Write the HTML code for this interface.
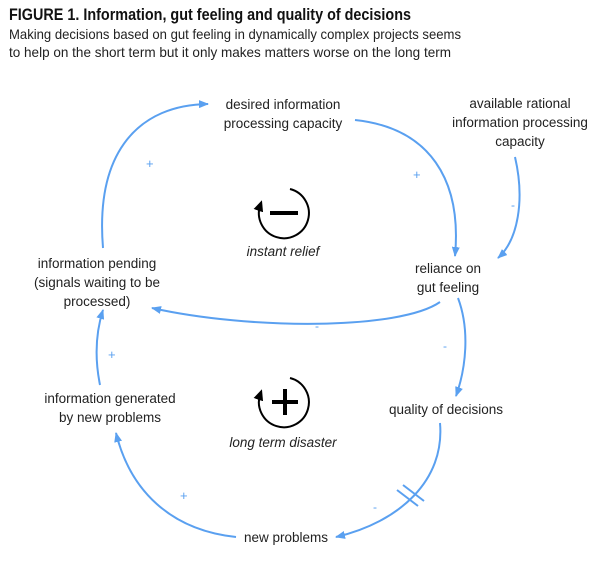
<!DOCTYPE html>
<html><head><style>
body{margin:0;width:600px;height:560px;background:#fff;overflow:hidden;font-family:"Liberation Sans",sans-serif}
svg text{font-family:"Liberation Sans",sans-serif;font-size:13.5px;fill:#222}
</style></head><body>
<svg width="600" height="560" viewBox="0 0 600 560">
<defs><marker id="a" markerWidth="10" markerHeight="8" refX="9" refY="4" orient="auto" markerUnits="userSpaceOnUse"><path d="M0,0 L10,4 L0,8 z" fill="#5aa0f0"/></marker>
<marker id="b" markerWidth="11" markerHeight="10" refX="6" refY="5" orient="auto" markerUnits="userSpaceOnUse"><path d="M0,0 L11,5 L0,10 z" fill="#000"/></marker></defs>
<text x="9" y="20" textLength="402" lengthAdjust="spacingAndGlyphs" style="font-size:16.5px;font-weight:bold;fill:#111">FIGURE 1. Information, gut feeling and quality of decisions</text>
<text x="9" y="39" textLength="452" lengthAdjust="spacingAndGlyphs" style="font-size:14px">Making decisions based on gut feeling in dynamically complex projects seems</text>
<text x="9" y="57" textLength="442" lengthAdjust="spacingAndGlyphs" style="font-size:14px">to help on the short term but it only makes matters worse on the long term</text>
<g fill="none" stroke="#5aa0f0" stroke-width="2" marker-end="url(#a)">
<path d="M103,248 C95,150 140,105 208,104"/>
<path d="M355,120 C430,128 462,180 455,256"/>
<path d="M515,157 C525,200 518,240 498,258"/>
<path d="M440,302 C400,330 250,330 152,308"/>
<path d="M458,298 C470,330 466,368 456,396"/>
<path d="M440,423 C445,480 400,522 336,537"/>
<path d="M236,537 C170,530 130,490 116,433"/>
<path d="M100,385 C95,360 95,335 103,310"/>
</g>
<g stroke="#5aa0f0" stroke-width="2"><line x1="397" y1="490" x2="418" y2="506"/><line x1="403" y1="485" x2="424" y2="501"/></g>
<g><text x="146" y="168" style="fill:#5aa0f0;font-size:13px">+</text><text x="413" y="179" style="fill:#5aa0f0;font-size:13px">+</text>
<text x="511" y="209" style="fill:#5aa0f0;font-size:12px">-</text><text x="315" y="330" style="fill:#5aa0f0;font-size:12px">-</text><text x="443" y="350" style="fill:#5aa0f0;font-size:12px">-</text>
<text x="373" y="511" style="fill:#5aa0f0;font-size:12px">-</text><text x="180" y="500" style="fill:#5aa0f0;font-size:13px">+</text><text x="108" y="359" style="fill:#5aa0f0;font-size:13px">+</text></g>
<g text-anchor="middle">
<text x="283" y="109">desired information</text><text x="283" y="128">processing capacity</text>
<text x="520" y="108">available rational</text><text x="520" y="127">information processing</text><text x="520" y="146">capacity</text>
<text x="448" y="273">reliance on</text><text x="448" y="292">gut feeling</text>
<text x="97" y="268">information pending</text><text x="97" y="287">(signals waiting to be</text><text x="97" y="306">processed)</text>
<text x="446" y="414">quality of decisions</text>
<text x="110" y="403">information generated</text><text x="110" y="422">by new problems</text>
<text x="286" y="542">new problems</text>
<text x="283" y="256" style="font-style:italic">instant relief</text>
<text x="283" y="447" style="font-style:italic">long term disaster</text>
</g>
<g fill="none" stroke="#000" stroke-width="2">
<path d="M290,189 A25,25 0 1 1 260.3,205" marker-end="url(#b)"/>
<path d="M290,378 A25,25 0 1 1 260.3,394" marker-end="url(#b)"/>
</g>
<g stroke="#000" stroke-width="4"><line x1="270" y1="213" x2="298" y2="213"/><line x1="272" y1="402" x2="298" y2="402"/><line x1="285" y1="389" x2="285" y2="415"/></g>
</svg>
</body></html>
